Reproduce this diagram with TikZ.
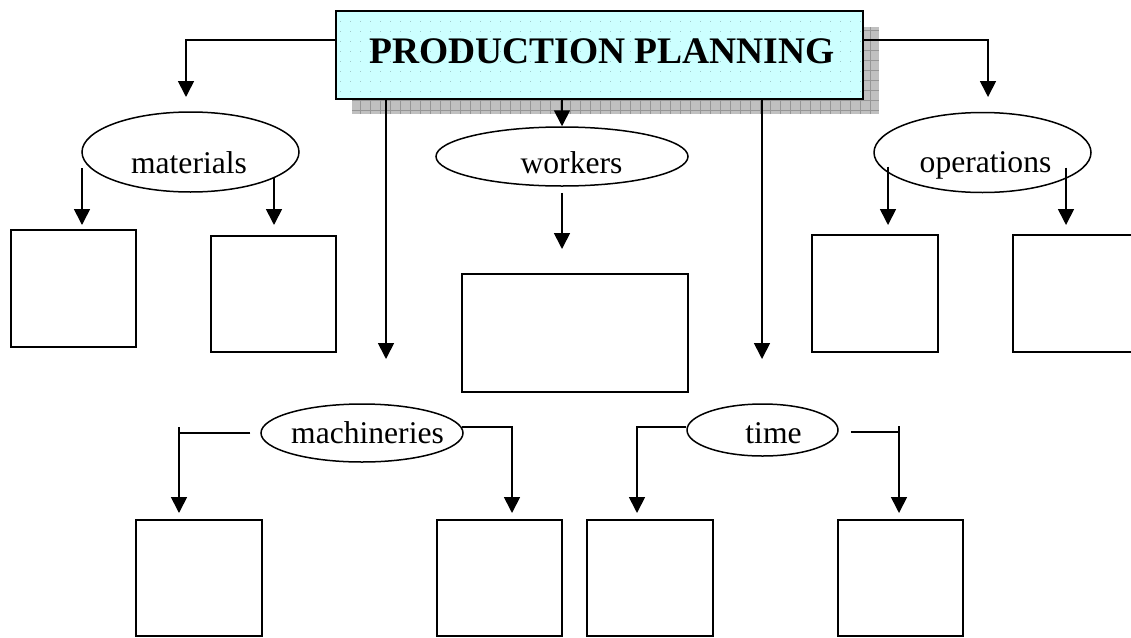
\documentclass[tikz,border=0pt]{standalone}
\usepackage{fontspec}
\setmainfont{Liberation Serif}
\usetikzlibrary{arrows.meta,calc,shapes.geometric}
\definecolor{titlefill}{RGB}{204,255,255}
\definecolor{titledot}{RGB}{160,200,200}
\definecolor{shadowfill}{RGB}{192,192,192}
\definecolor{shadowgrid}{RGB}{150,150,150}
% text placed with its baseline #2 below the node centre, shifted right by #1/2
\newcommand\placetext[3]{\raisebox{-#2}[0pt][0pt]{\makebox[0pt]{\hspace*{#1}#3}}}

\begin{document}
\begin{tikzpicture}[x=1pt,y=-1pt,
  ln/.style={line width=1.7pt},
  arr/.style={ln,-{Triangle[width=16pt,length=16pt]}},
  oval/.style={draw,ellipse,line width=1.5pt,inner sep=0pt,fill=white,
    font=\fontsize{31.6}{38}\selectfont},
  blank/.style={draw,rectangle,line width=1.5pt,inner sep=0pt},
  titlebox/.style={draw,rectangle,line width=1.8pt,fill=titlefill,inner sep=0pt,
    font=\bfseries\fontsize{37.5}{44}\selectfont,
    path picture={
      \foreach \k in {1,...,8}
        \draw[titledot,line width=0.8pt,dash pattern=on 1pt off 9pt]
          ($(path picture bounding box.north west)+(4,\k*10)$) -- ++(525,0);}}]
\clip (0,0) rectangle (1131,637);
\fill[white] (0,0) rectangle (1131,637);

% drop shadow of the title
\fill[shadowfill] (352,27) rectangle (879,114);
\draw[shadowgrid,line width=0.6pt] (352,27) grid[step=10pt] (879,114);

% title
\node[titlebox,minimum width=527pt,minimum height=88pt] (title) at (599.5,55)
  {\placetext{5pt}{8pt}{PRODUCTION PLANNING}};

% category ovals
\node[oval,minimum width=217pt,minimum height=80pt] (mat) at (190.5,152)
  {\placetext{-3pt}{21pt}{materials}};
\node[oval,minimum width=252pt,minimum height=59pt] (wor) at (562,156.5)
  {\placetext{19pt}{16.5pt}{workers}};
\node[oval,minimum width=217pt,minimum height=80pt] (ops) at (982.5,152.5)
  {\placetext{6pt}{19.5pt}{operations}};
\node[oval,minimum width=202pt,minimum height=58pt] (mch) at (362,433)
  {\placetext{11pt}{10pt}{machineries}};
\node[oval,minimum width=151pt,minimum height=52pt] (tim) at (762.5,430)
  {\placetext{22pt}{13pt}{time}};

% empty boxes
\node[blank,minimum width=125pt,minimum height=117pt] (mB1) at (73.5,288.5) {};
\node[blank,minimum width=125pt,minimum height=116pt] (mB2) at (273.5,294) {};
\node[blank,minimum width=226pt,minimum height=118pt] (wB) at (575,333) {};
\node[blank,minimum width=126pt,minimum height=117pt] (oB1) at (875,293.5) {};
\node[blank,minimum width=126pt,minimum height=117pt] (oB2) at (1076,293.5) {};
\node[blank,minimum width=126pt,minimum height=116pt] (kB1) at (199,578) {};
\node[blank,minimum width=125pt,minimum height=116pt] (kB2) at (499.5,578) {};
\node[blank,minimum width=126pt,minimum height=116pt] (tB1) at (650,578) {};
\node[blank,minimum width=125pt,minimum height=116pt] (tB2) at (900.5,578) {};

% arrow tips
\coordinate (mT) at (186,97);
\coordinate (oT) at (988,97);
\coordinate (mchT) at (386,359);
\coordinate (tmT) at (762,359);
\coordinate (mA1) at (82,225);
\coordinate (mA2) at (274,225);
\coordinate (oA1) at (888,225);
\coordinate (oA2) at (1066,225);
\coordinate (wT) at (562,249);
\coordinate (c1t) at (179,513);
\coordinate (c2t) at (512,513);
\coordinate (c3t) at (637,513);
\coordinate (c4t) at (899,513);

% from the title
\draw[arr] ($(title.north west)!0.33!(title.south west)$) -| (mT);
\draw[arr] ($(title.north east)!0.33!(title.south east)$) -| (oT);
\draw[arr] (title.south -| wor.north) -- (wor.north);
\draw[arr] (title.south -| mchT) -- (mchT);
\draw[arr] (title.south -| tmT) -- (tmT);

% materials, operations, workers
\draw[arr] ($(mat.center -| mA1)+(0,16)$) -- (mA1);
\draw[arr] ($(mat.center -| mA2)+(0,26)$) -- (mA2);
\draw[arr] ($(ops.center -| oA1)+(0,14)$) -- (oA1);
\draw[arr] ($(ops.center -| oA2)+(0,15)$) -- (oA2);
\draw[arr] ($(wor.south)+(0,6)$) -- (wT);

% machineries
\draw[ln] ($(mch.west)+(-10,0)$) -- (mch.west -| c1t);
\draw[arr] ($(mch.west -| c1t)+(0,-6)$) -- (c1t);
\draw[arr] ($(mch.east)+(-2,-6)$) -| (c2t);

% time
\draw[arr] ($(tim.west)+(0,-3)$) -| (c3t);
\draw[ln] ($(tim.east)+(12,2)$) -- ($(tim.east -| c4t)+(0,2)$);
\draw[arr] ($(tim.east -| c4t)+(0,-4)$) -- (c4t);
\end{tikzpicture}
\end{document}
